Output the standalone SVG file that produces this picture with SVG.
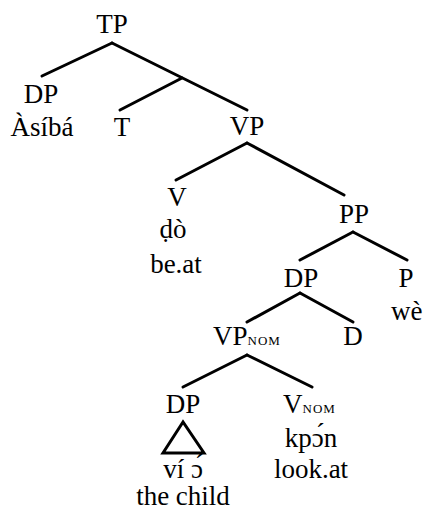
<svg xmlns="http://www.w3.org/2000/svg" width="423" height="515" viewBox="0 0 423 515">
  <rect width="423" height="515" fill="#fff"/>

  <!-- branches of the tree: shared stroke set on the group -->
  <g id="connectors" stroke="#000" stroke-width="3" stroke-linecap="round" fill="none">
    <line x1="112" y1="43" x2="42" y2="76"/>
    <line x1="112" y1="43" x2="247" y2="110"/>
    <line x1="182" y1="78" x2="120" y2="110"/>
    <line x1="247" y1="143" x2="176" y2="180"/>
    <line x1="247" y1="143" x2="344" y2="195"/>
    <line x1="353" y1="232" x2="300" y2="260"/>
    <line x1="353" y1="232" x2="407" y2="260"/>
    <line x1="300" y1="293" x2="247" y2="322"/>
    <line x1="300" y1="293" x2="353" y2="322"/>
    <line x1="247" y1="355" x2="183" y2="387"/>
    <line x1="247" y1="355" x2="312" y2="387"/>
  </g>

  <g id="tp"><text x="112" y="33" font-family="Liberation Serif" font-size="27" text-anchor="middle">TP</text></g>
  <g id="dp-subject">
    <text x="41" y="103" font-family="Liberation Serif" font-size="27" text-anchor="middle">DP</text>
    <text x="42" y="136" font-family="Liberation Serif" font-size="27" text-anchor="middle">Àsíbá</text>
  </g>
  <g id="t"><text x="122" y="136" font-family="Liberation Serif" font-size="27" text-anchor="middle">T</text></g>
  <g id="vp"><text x="247" y="135" font-family="Liberation Serif" font-size="27" text-anchor="middle">VP</text></g>
  <g id="v">
    <text x="177" y="206" font-family="Liberation Serif" font-size="27" text-anchor="middle">V</text>
    <text x="173" y="238" font-family="Liberation Serif" font-size="27" text-anchor="middle">ḍò</text>
    <text x="176" y="273" font-family="Liberation Serif" font-size="27" text-anchor="middle">be.at</text>
  </g>
  <g id="pp"><text x="354" y="223" font-family="Liberation Serif" font-size="27" text-anchor="middle">PP</text></g>
  <g id="dp-object"><text x="301" y="287" font-family="Liberation Serif" font-size="27" text-anchor="middle">DP</text></g>
  <g id="p">
    <text x="406" y="287" font-family="Liberation Serif" font-size="27" text-anchor="middle">P</text>
    <text x="391" y="320" font-family="Liberation Serif" font-size="27">wè</text>
  </g>
  <g id="vp-nom"><text x="213" y="345" font-family="Liberation Serif" font-size="27">VP<tspan font-size="13" letter-spacing="1">NOM</tspan></text></g>
  <g id="d"><text x="353" y="345" font-family="Liberation Serif" font-size="27" text-anchor="middle">D</text></g>
  <g id="dp-child">
    <text x="183" y="413" font-family="Liberation Serif" font-size="27" text-anchor="middle">DP</text>
    <polygon points="183,422 163,453 204,453" fill="none" stroke="#000" stroke-width="3"/>
    <text x="183" y="478" font-family="Liberation Serif" font-size="27" text-anchor="middle">ví ɔ́</text>
    <text x="183" y="505" font-family="Liberation Serif" font-size="27" text-anchor="middle">the child</text>
  </g>
  <g id="v-nom">
    <text x="283" y="413" font-family="Liberation Serif" font-size="27">V<tspan font-size="13" letter-spacing="1">NOM</tspan></text>
    <text x="311" y="447" font-family="Liberation Serif" font-size="27" text-anchor="middle">kpɔ́n</text>
    <text x="311" y="478" font-family="Liberation Serif" font-size="27" text-anchor="middle">look.at</text>
  </g>
</svg>
